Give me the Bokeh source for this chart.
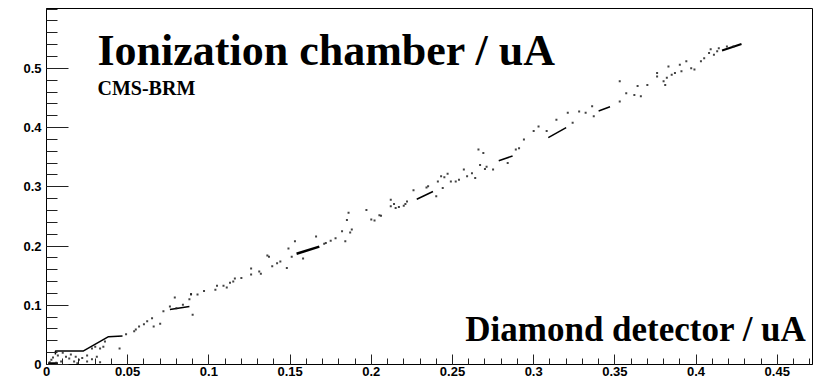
from bokeh.plotting import figure
from bokeh.models import Range1d, FixedTicker, Label
from bokeh.embed import file_html
from bokeh.resources import INLINE

# ---- data ----
scatter_x = [
    0.003, 0.009, 0.012, 0.014, 0.017, 0.018, 0.020, 0.025, 0.025, 0.031, 0.007, 0.010, 0.004, 0.015, 0.022,
    0.028, 0.033, 0.002, 0.006, 0.019,
    0.028, 0.030, 0.033, 0.035, 0.036, 0.045, 0.049, 0.054, 0.055, 0.057, 0.060, 0.062, 0.065, 0.066, 0.070,
    0.072, 0.076, 0.080, 0.084, 0.088, 0.089, 0.090,
    0.079, 0.089, 0.093, 0.097, 0.104, 0.105, 0.109, 0.111, 0.113, 0.115, 0.116, 0.120, 0.126, 0.126, 0.131,
    0.132, 0.136, 0.137, 0.139, 0.142, 0.144, 0.148, 0.149, 0.151, 0.153, 0.158, 0.166, 0.171, 0.172, 0.175,
    0.178, 0.182, 0.184, 0.185, 0.186, 0.188, 0.187, 0.197, 0.200, 0.202, 0.205, 0.206,
    0.212, 0.212, 0.214, 0.215, 0.217, 0.220, 0.221, 0.222, 0.226, 0.234, 0.235, 0.240, 0.241, 0.243, 0.244,
    0.245, 0.247, 0.249, 0.252, 0.254, 0.257, 0.259, 0.262, 0.264, 0.266, 0.267, 0.269, 0.270, 0.271, 0.275,
    0.284, 0.289, 0.291,
    0.294, 0.300, 0.303, 0.308, 0.314, 0.321, 0.324, 0.328, 0.332, 0.336, 0.337, 0.353, 0.353, 0.357, 0.362,
    0.364, 0.366, 0.370, 0.376, 0.380, 0.381, 0.383, 0.385, 0.387,
    0.376, 0.382, 0.390, 0.391, 0.394, 0.397, 0.399, 0.403, 0.405, 0.408, 0.409, 0.411, 0.413, 0.414, 0.419,
    0.423,
]
scatter_y = [
    0.008, 0.005, 0.013, 0.010, 0.005, 0.013, 0.008, 0.005, 0.015, 0.013, 0.015, 0.020, 0.012, 0.017, 0.011,
    0.009, 0.004, 0.004, 0.003, 0.002,
    0.027, 0.030, 0.027, 0.030, 0.039, 0.027, 0.051, 0.056, 0.059, 0.064, 0.068, 0.073, 0.078, 0.064, 0.069,
    0.090, 0.098, 0.095, 0.101, 0.110, 0.118, 0.084,
    0.113, 0.119, 0.118, 0.124, 0.126, 0.133, 0.133, 0.130, 0.138, 0.140, 0.145, 0.146, 0.162, 0.152, 0.157,
    0.153, 0.184, 0.182, 0.166, 0.171, 0.174, 0.163, 0.196, 0.182, 0.208, 0.179, 0.216, 0.204, 0.205, 0.209,
    0.213, 0.225, 0.208, 0.244, 0.256, 0.228, 0.223, 0.261, 0.245, 0.243, 0.252, 0.251,
    0.278, 0.267, 0.271, 0.264, 0.266, 0.268, 0.271, 0.275, 0.294, 0.299, 0.301, 0.284, 0.309, 0.318, 0.298,
    0.316, 0.322, 0.309, 0.309, 0.312, 0.329, 0.318, 0.323, 0.315, 0.363, 0.337, 0.357, 0.330, 0.334, 0.329,
    0.340, 0.363, 0.365,
    0.380, 0.394, 0.402, 0.394, 0.413, 0.425, 0.408, 0.427, 0.425, 0.436, 0.419, 0.444, 0.478, 0.458, 0.455,
    0.470, 0.453, 0.472, 0.486, 0.478, 0.472, 0.503, 0.489, 0.492,
    0.492, 0.484, 0.506, 0.495, 0.512, 0.500, 0.498, 0.512, 0.517, 0.526, 0.532, 0.523, 0.529, 0.534, 0.537,
    0.537,
]

# dense streaks (many overlapping points)
streak_xs = [
    [0.001, 0.007],
    [0.0055, 0.0055, 0.0228, 0.0382, 0.0468],
    [0.076, 0.088],
    [0.154, 0.168],
    [0.228, 0.238],
    [0.2785, 0.287],
    [0.309, 0.320],
    [0.340, 0.347],
    [0.416, 0.428],
]
streak_ys = [
    [0.002, 0.002],
    [0.017, 0.023, 0.023, 0.047, 0.048],
    [0.093, 0.098],
    [0.187, 0.199],
    [0.279, 0.292],
    [0.344, 0.352],
    [0.383, 0.400],
    [0.428, 0.435],
    [0.530, 0.541],
]
streak_widths = [2, 1.5, 1.5, 2.5, 1.5, 1.5, 1.5, 1.5, 2]

x_tick_values = [0, 0.05, 0.1, 0.15, 0.2, 0.25, 0.3, 0.35, 0.4, 0.45]
x_tick_labels = ["0", "0.05", "0.1", "0.15", "0.2", "0.25", "0.3", "0.35", "0.4", "0.45"]
y_tick_values = [0, 0.1, 0.2, 0.3, 0.4, 0.5]
y_tick_labels = ["0", "0.1", "0.2", "0.3", "0.4", "0.5"]

title_text = "Ionization chamber / uA"
sub_text = "CMS-BRM"
xlabel_text = "Diamond detector / uA"

X_MAX = 0.4717
Y_MAX = 0.601

p = figure(width=820, height=383, output_backend="svg", toolbar_location=None,
           x_range=Range1d(0, X_MAX), y_range=Range1d(0, Y_MAX),
           min_border_left=46, min_border_right=8, min_border_top=8, min_border_bottom=19)
p.background_fill_color = "white"
p.border_fill_color = "white"
p.outline_line_color = "black"
p.outline_line_width = 1
p.grid.visible = False

x_minor = [round(i * 0.01, 4) for i in range(0, 48)]
y_minor = [round(i * 0.02, 4) for i in range(0, 31)]
p.xaxis.ticker = FixedTicker(ticks=x_tick_values, minor_ticks=x_minor)
p.yaxis.ticker = FixedTicker(ticks=y_tick_values, minor_ticks=y_minor)
p.xaxis.major_label_overrides = {v: l for v, l in zip(x_tick_values, x_tick_labels)}
p.yaxis.major_label_overrides = {v: l for v, l in zip(y_tick_values, y_tick_labels)}

for ax in (p.xaxis[0], p.yaxis[0]):
    ax.axis_line_color = "black"
    ax.major_tick_line_color = "#222222"
    ax.minor_tick_line_color = "#222222"
    ax.major_tick_out = 0
    ax.minor_tick_out = 0
    ax.major_label_text_font = "Liberation Sans"
    ax.major_label_text_font_style = "bold"
    ax.major_label_text_font_size = "13px"
    ax.major_label_text_color = "black"

p.xaxis.major_tick_in = 10
p.xaxis.minor_tick_in = 6
p.xaxis.major_label_standoff = 2
p.yaxis.major_tick_in = 22
p.yaxis.minor_tick_in = 11
p.yaxis.major_label_standoff = 5

for xs, ys, w in zip(streak_xs, streak_ys, streak_widths):
    p.line(xs, ys, line_color="black", line_width=w)

p.scatter(scatter_x, scatter_y, marker="square", size=2, fill_color="#222222",
          line_color=None, alpha=0.85)

p.add_layout(Label(x=0.0314, y=0.530, text=title_text, text_font="Liberation Serif",
                   text_font_style="bold", text_font_size="44px", text_color="black",
                   text_align="left", text_baseline="alphabetic"))
p.add_layout(Label(x=0.0314, y=0.466, text=sub_text, text_font="Liberation Serif",
                   text_font_style="bold", text_font_size="20px", text_color="black",
                   text_align="left", text_baseline="alphabetic"))
p.add_layout(Label(x=0.468, y=0.059, text=xlabel_text, text_font="Liberation Serif",
                   text_font_style="bold", text_font_size="35px", text_color="black",
                   text_align="right", text_baseline="alphabetic"))

open("out.html", "w").write(file_html(p, INLINE))
